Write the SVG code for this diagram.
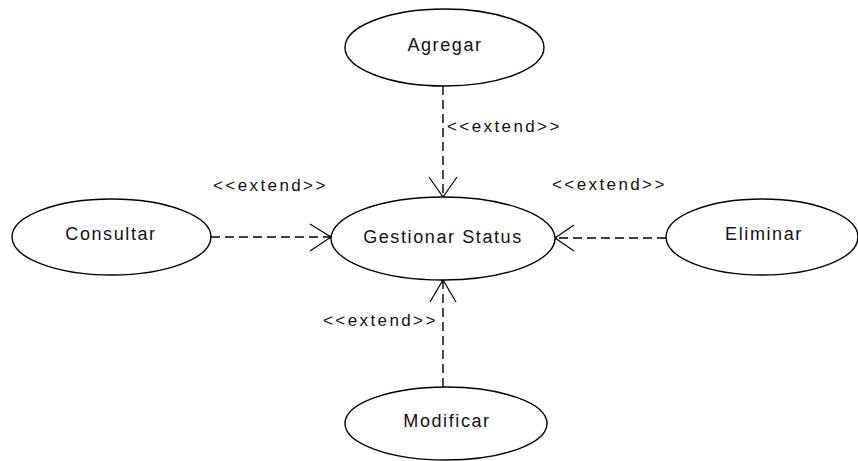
<svg xmlns="http://www.w3.org/2000/svg" width="858" height="461" viewBox="0 0 858 461">
  <style>
    .uc { fill: #ffffff; stroke: #000000; stroke-width: 1.4; }
    .name { font-family: "Liberation Sans", Arial, sans-serif; font-size: 18px; letter-spacing: 1.6px; fill: #111111; text-anchor: middle; }
    .stereo { font-family: "Liberation Sans", Arial, sans-serif; font-size: 17px; letter-spacing: 2.4px; fill: #111111; }
    .dep { fill: none; stroke: #000000; stroke-width: 1.4; stroke-dasharray: 9 5; }
    .head { fill: none; stroke: #000000; stroke-width: 1.2; }
  </style>
  <rect width="858" height="461" fill="#ffffff"/>

  <g id="connectors">
    <!-- Agregar -> Gestionar Status -->
    <g id="dep-agregar">
      <line class="dep" x1="443" y1="86" x2="443" y2="197"/>
      <polyline class="head" points="429,177 443,197 457,177"/>
      <circle cx="443" cy="197" r="1.8" fill="#000"/>
      <text class="stereo" x="447" y="132">&lt;&lt;extend&gt;&gt;</text>
    </g>
    <!-- Consultar -> Gestionar Status -->
    <g id="dep-consultar">
      <line class="dep" x1="211" y1="237" x2="331" y2="237"/>
      <polyline class="head" points="310,224 331,237 310,251"/>
      <circle cx="331" cy="237" r="1.8" fill="#000"/>
      <text class="stereo" x="213" y="191">&lt;&lt;extend&gt;&gt;</text>
    </g>
    <!-- Eliminar -> Gestionar Status -->
    <g id="dep-eliminar">
      <line class="dep" x1="666" y1="238" x2="555" y2="238"/>
      <polyline class="head" points="574,225 555,238 574,251"/>
      <circle cx="555" cy="238" r="1.8" fill="#000"/>
      <text class="stereo" x="552" y="190">&lt;&lt;extend&gt;&gt;</text>
    </g>
    <!-- Modificar -> Gestionar Status -->
    <g id="dep-modificar">
      <line class="dep" x1="443" y1="387" x2="443" y2="280"/>
      <polyline class="head" points="430,302 443,280 456,302"/>
      <circle cx="443" cy="280" r="1.8" fill="#000"/>
      <text class="stereo" x="323" y="326">&lt;&lt;extend&gt;&gt;</text>
    </g>
  </g>

  <g id="agregar">
    <ellipse class="uc" cx="444.5" cy="47.5" rx="99.5" ry="38.5"/>
    <text class="name" x="445" y="51">Agregar</text>
  </g>
  <g id="gestionar-status">
    <ellipse class="uc" cx="443" cy="238.5" rx="112" ry="41.5"/>
    <text class="name" x="443" y="243">Gestionar Status</text>
  </g>
  <g id="consultar">
    <ellipse class="uc" cx="111.5" cy="237" rx="99.5" ry="38"/>
    <text class="name" x="111" y="240">Consultar</text>
  </g>
  <g id="eliminar">
    <ellipse class="uc" cx="762" cy="237" rx="96" ry="38"/>
    <text class="name" x="764" y="240">Eliminar</text>
  </g>
  <g id="modificar">
    <ellipse class="uc" cx="446" cy="423.5" rx="101" ry="36.5"/>
    <text class="name" x="447" y="427">Modificar</text>
  </g>
</svg>
